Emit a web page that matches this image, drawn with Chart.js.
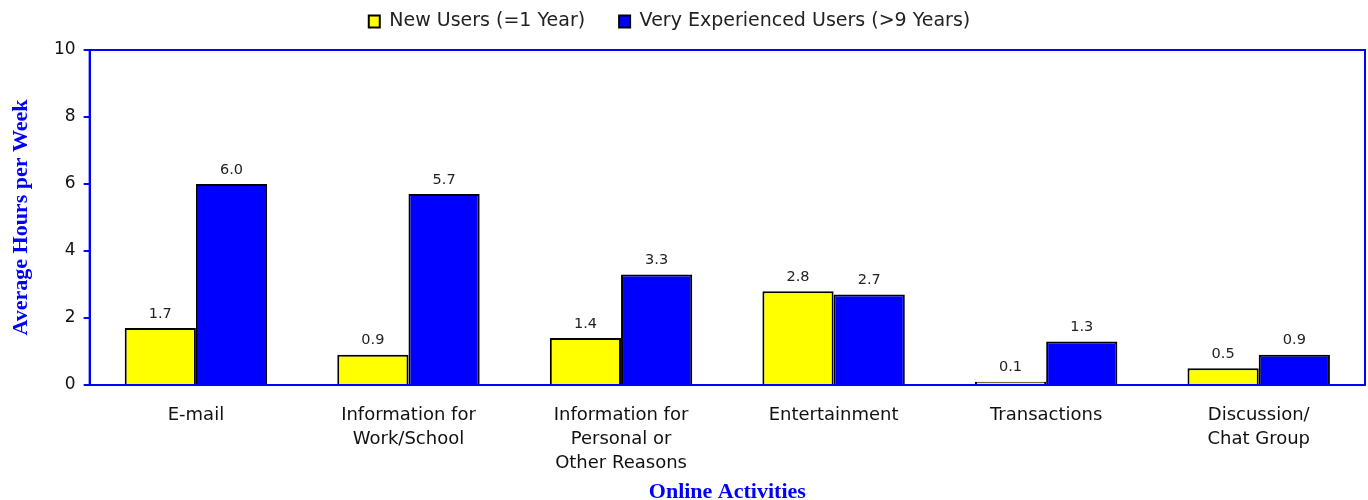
<!DOCTYPE html>
<html>
<head>
<meta charset="utf-8">
<script src="https://cdn.jsdelivr.net/npm/chart.js@4"></script>
<style>
html,body{margin:0;padding:0;background:#fff;}
#wrap{width:1368px;height:500px;}
</style>
</head>
<body>
<div id="wrap"><canvas id="c" width="1368" height="500"></canvas></div>
<script>
// data
const activities = [
  'E-mail',
  ['Information for', 'Work/School'],
  ['Information for', 'Personal or', 'Other Reasons'],
  'Entertainment',
  'Transactions',
  ['Discussion/', 'Chat Group']
];
const newUsers = [1.7, 0.9, 1.4, 2.8, 0.1, 0.5];
const veteranUsers = [6.0, 5.7, 3.3, 2.7, 1.3, 0.9];
const yTicks = [0, 2, 4, 6, 8, 10];

const BLUE = '#0000ff';

// value labels above bars
const barLabels = {
  id: 'barLabels',
  afterDatasetsDraw(chart) {
    const ctx = chart.ctx;
    ctx.save();
    ctx.font = '14.5px "DejaVu Sans"';
    ctx.fillStyle = '#222';
    ctx.textAlign = 'center';
    ctx.textBaseline = 'bottom';
    chart.data.datasets.forEach((ds, i) => {
      chart.getDatasetMeta(i).data.forEach((bar, j) => {
        ctx.fillText(ds.data[j].toFixed(1), bar.x, bar.y - 7);
      });
    });
    ctx.restore();
  }
};

// blue frame round the plot area
const frame = {
  id: 'frame',
  afterDraw(chart) {
    const a = chart.chartArea, ctx = chart.ctx;
    ctx.save();
    ctx.strokeStyle = BLUE;
    ctx.lineWidth = 2;
    ctx.strokeRect(a.left, a.top, a.right - a.left, a.bottom - a.top);
    ctx.restore();
  }
};

// more room under the legend, and legend sits a little left of centre
const legendTweak = {
  id: 'legendTweak',
  afterInit(chart) {
    const lg = chart.legend;
    const fit = lg.fit, draw = lg.draw;
    lg.fit = function () { fit.call(this); this.height += 9; };
    lg.draw = function () {
      this.ctx.save();
      this.ctx.translate(-18, 0);
      draw.call(this);
      this.ctx.restore();
    };
  }
};

new Chart(document.getElementById('c'), {
  type: 'bar',
  data: {
    labels: activities,
    datasets: [
      { label: 'New Users (=1 Year)', data: newUsers, backgroundColor: '#ffff00', borderColor: '#000', borderWidth: 2 },
      { label: 'Very Experienced Users (>9 Years)', data: veteranUsers, backgroundColor: BLUE, borderColor: '#000', borderWidth: 2 }
    ]
  },
  options: {
    responsive: false,
    animation: false,
    devicePixelRatio: 1,
    layout: { padding: { left: 10, right: 3, top: -22, bottom: -3 } },
    datasets: { bar: { categoryPercentage: 0.67, barPercentage: 1 } },
    plugins: {
      tooltip: { enabled: false },
      legend: {
        position: 'top',
        labels: {
          boxWidth: 11, boxHeight: 12, padding: 34,
          color: '#222',
          font: { family: 'DejaVu Sans', size: 19 }
        }
      }
    },
    scales: {
      x: {
        grid: { display: false, drawTicks: false },
        border: { color: BLUE, width: 2 },
        ticks: { color: '#111', font: { family: 'DejaVu Sans', size: 18, lineHeight: 1.333 }, padding: 18, maxRotation: 0, autoSkip: false },
        title: { display: true, text: 'Online Activities', color: BLUE, font: { family: 'Liberation Serif', size: 22, weight: 'bold', lineHeight: 1 }, padding: { top: -12, bottom: 0 } }
      },
      y: {
        min: 0, max: 10,
        afterBuildTicks(axis) { axis.ticks = yTicks.map(v => ({ value: v })); },
        grid: { drawOnChartArea: false, color: BLUE, lineWidth: 2, tickLength: 6 },
        border: { color: BLUE, width: 2 },
        ticks: { color: '#111', font: { family: 'DejaVu Sans', size: 17 }, padding: 8 },
        title: { display: true, text: 'Average Hours per Week', color: BLUE, font: { family: 'Liberation Serif', size: 22, weight: 'bold', lineHeight: 1 }, padding: { top: 0, bottom: 14 } }
      }
    }
  },
  plugins: [barLabels, frame, legendTweak]
});
</script>
</body>
</html>
